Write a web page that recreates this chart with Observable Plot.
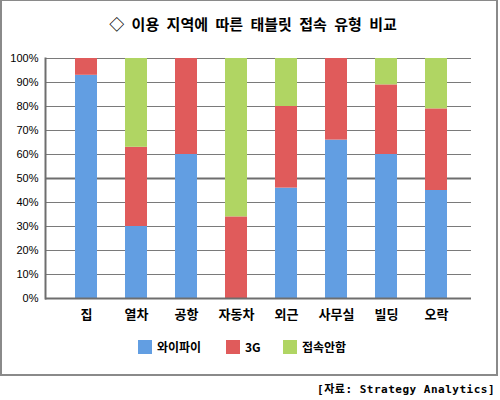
<!DOCTYPE html>
<html>
<head>
<meta charset="utf-8">
<script src="https://cdn.jsdelivr.net/npm/d3@7"></script>
<script src="https://cdn.jsdelivr.net/npm/@observablehq/plot@0.6"></script>
<style>
  body { margin: 0; background: #fff; }
  #frame { position: absolute; left: 0; top: 0; width: 498px; height: 376px; box-sizing: border-box; border: 2px solid #8a8a8a; border-top-width: 1px; }
  #title { position: absolute; left: 0; top: 13px; width: 506px; text-align: center; font: bold 15px "Noto Sans CJK KR", sans-serif; color: #000; word-spacing: 4px; }
  #chart { position: absolute; left: 0; top: 0; }
  #legend { position: absolute; left: 0; top: 339px; width: 500px; font: bold 12px "Noto Sans CJK KR", sans-serif; }
  .item { position: absolute; top: 0; height: 16px; line-height: 16px; white-space: nowrap; }
  .sw { display: inline-block; width: 14px; height: 14px; vertical-align: -2px; margin-right: 5px; }
  #caption { position: absolute; right: 5px; top: 380px; font: bold 11px "DejaVu Sans Mono", "Noto Sans CJK KR", monospace; white-space: nowrap; letter-spacing: 0.5px; }
</style>
</head>
<body>
<div id="frame"></div>
<div id="title">◇ 이용 지역에 따른 태블릿 접속 유형 비교</div>
<div id="chart"></div>
<div id="legend"></div>
<div id="caption">[자료: Strategy Analytics]</div>
<script>
const categories = ["집", "열차", "공항", "자동차", "외근", "사무실", "빌딩", "오락"];
const types = ["와이파이", "3G", "접속안함"];
const wifi = [93, 30, 60, 0, 46, 66, 60, 45];
const g3   = [7, 33, 40, 34, 34, 34, 29, 34];
const none = [0, 37, 0, 66, 20, 0, 11, 21];
const colors = ["#629ee2", "#e05b5b", "#b0d563"];
const yTicks = [0, 10, 20, 30, 40, 50, 60, 70, 80, 90, 100];
const legendX = [138, 226, 283];

const series = [wifi, g3, none];
const data = categories.flatMap((c, i) => types.map((t, k) => ({cat: c, type: t, value: series[k][i]})));

const chart = Plot.plot({
  width: 500,
  height: 330,
  marginTop: 58,
  marginBottom: 32,
  marginLeft: 45,
  marginRight: 29,
  style: {fontFamily: "'Noto Sans CJK KR', sans-serif", background: "transparent", color: "#000"},
  x: {domain: categories, range: [48, 474], paddingInner: 0.56, paddingOuter: 0.54},
  y: {domain: [0, 100]},
  color: {domain: types, range: colors},
  marks: [
    Plot.ruleY(yTicks.filter(d => d !== 0 && d !== 50), {stroke: "#7a7a7a", strokeWidth: 1}),
    Plot.ruleY([50], {stroke: "#6e6e6e", strokeWidth: 2}),
    Plot.barY(data, {x: "cat", y: "value", fill: "type", order: types}),
    Plot.ruleY([0], {stroke: "#6e6e6e", strokeWidth: 2}),
    Plot.frame({anchor: "left", stroke: "#6e6e6e", strokeWidth: 2}),
    Plot.axisX({tickSize: 0, tickPadding: 11, fontSize: 13, fontWeight: "bold", label: null}),
    Plot.axisY({ticks: yTicks, tickFormat: d => d + "%", tickSize: 0, tickPadding: 7, fontSize: 11, label: null, fontFamily: "'Liberation Sans', sans-serif"})
  ]
});
document.getElementById("chart").appendChild(chart);

const legend = document.getElementById("legend");
types.forEach((t, k) => {
  const item = document.createElement("div");
  item.className = "item";
  item.style.left = legendX[k] + "px";
  const sw = document.createElement("span");
  sw.className = "sw";
  sw.style.background = colors[k];
  item.appendChild(sw);
  item.appendChild(document.createTextNode(t));
  legend.appendChild(item);
});
</script>
</body>
</html>
